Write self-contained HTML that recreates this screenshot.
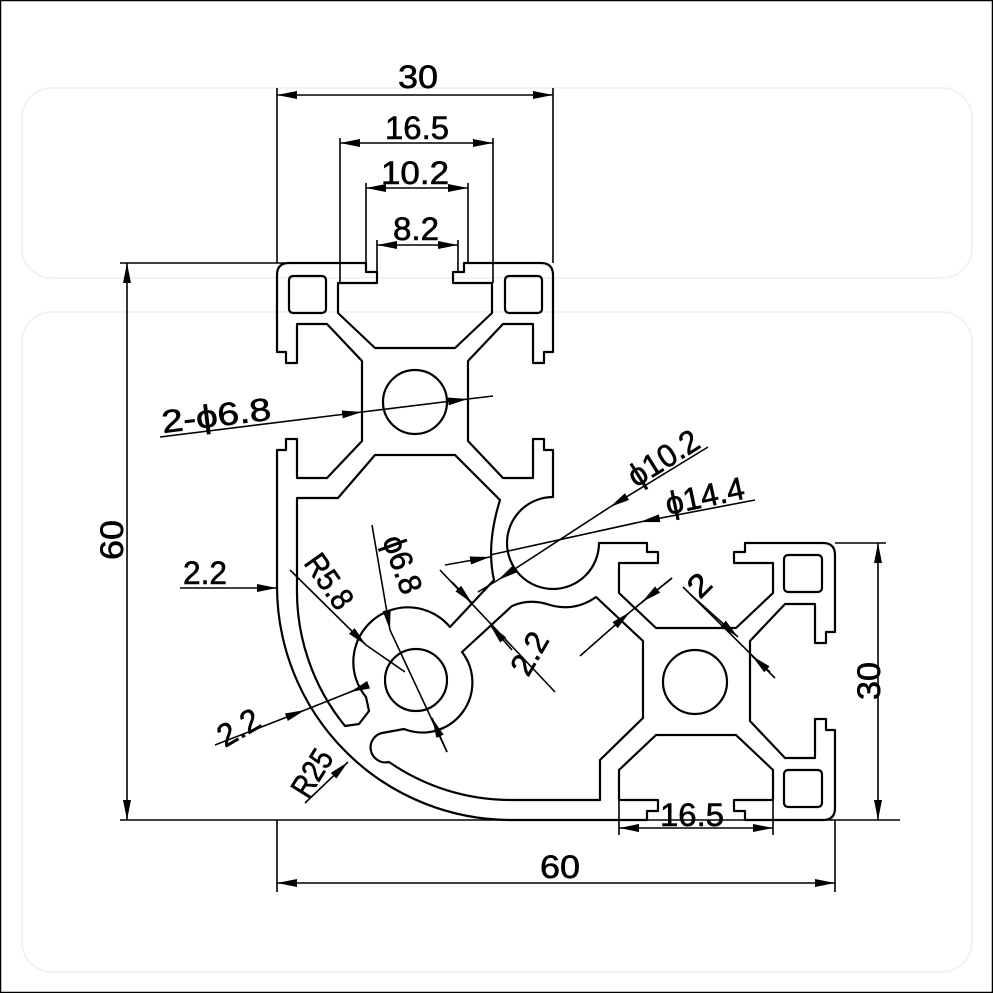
<!DOCTYPE html>
<html><head><meta charset="utf-8"><style>
html,body{margin:0;padding:0;background:#fff}
svg{display:block}
text{font-family:"Liberation Sans",sans-serif;fill:#000;stroke:#000;stroke-width:0.6}
</style></head><body>
<svg width="993" height="993" viewBox="0 0 993 993" xmlns="http://www.w3.org/2000/svg">
<defs>
<marker id="a" viewBox="0 0 20 8" refX="20" refY="4" markerWidth="20" markerHeight="8" markerUnits="userSpaceOnUse" orient="auto-start-reverse"><path d="M0,0 L20,4 L0,8 Z" fill="#000"/></marker>
</defs>
<rect x="0.5" y="0.5" width="992" height="992" fill="#fff" stroke="#000" stroke-width="1.5"/>
<g fill="none" stroke="#f2f2f2" stroke-width="2">
<rect x="22" y="88" width="950" height="190" rx="30"/>
<rect x="22" y="312" width="950" height="660" rx="30"/>
</g>
<g fill="none" stroke="#000" stroke-width="2.2" stroke-linejoin="round">
<path d="M277,275 Q277,263 289,263 L366,263 L366,272 L377,272 L377,283 L338,283 L338,313 L375,348 L455,348 L492,313 L492,283 L453,283 L453,272 L464,272 L464,263 L541,263 Q553,263 553,275
L553,352 L544,352 L544,363 L533,363 L533,324 L503,324 L468,361 L468,441 L503,478 L533,478 L533,439 L544,439 L544,450 L553,450 L553,497
A46,46 0 1 0 599,543 L647,543 L647,552 L658,552 L658,563 L619,563 L619,593 L656,628 L736,628 L773,593 L773,563 L734,563 L734,552 L745,552 L745,543 L823,543 Q835,543 835,555
L835,632 L826,632 L826,643 L815,643 L815,604 L785,604 L750,641 L750,721 L785,758 L815,758 L815,719 L826,719 L826,730 L835,730 L835,808 Q835,820 823,820
L745,820 L745,811 L734,811 L734,800 L773,800 L773,770 L736,735 L656,735 L619,770 L619,800 L658,800 L658,811 L647,811 L647,820 L511,820
A234,234 0 0 1 277,586 L277,450 L286,450 L286,439 L297,439 L297,478 L327,478 L362,441 L362,361 L327,324 L297,324 L297,363 L286,363 L286,352 L277,352 Z"/>
<path d="M297,498 L338,498 L375,455 L455,455 L500,500 Q486,545 494,580 L450,627 A50,50 0 0 0 366,697 L369,711 L359,724 L345,726 A214,214 0 0 1 297,586 Z"/>
<path d="M462,652 L512,606 Q530,598 550,605 Q575,612 596,597 L643,641 L643,718 L600,760 L600,800 L511,800 A214,214 0 0 1 389,762 A14,14 0 0 1 382,733 L404,729 A50,50 0 0 0 462,652 Z"/>
<rect x="289" y="276" width="37" height="37" rx="4"/>
<rect x="505" y="276" width="37" height="37" rx="4"/>
<rect x="784" y="555" width="38" height="37" rx="4"/>
<rect x="784" y="770" width="38" height="37" rx="4"/>
<circle cx="415" cy="402" r="32"/>
<circle cx="695" cy="682" r="32"/>
<circle cx="416" cy="680" r="31"/>
</g>
<g stroke="#000" stroke-width="1.6" fill="none">
<path d="M277,88 V263 M553,88 V263 M340,138 V283 M493,138 V283 M366,183 V263 M468,183 V263 M377,240 V272 M458,240 V272
M120,263 H300 M120,820 H900 M277,820 V892 M835,820 V892 M835,543 H886 M619,800 V835 M773,800 V835"/>
</g>
<g stroke="#000" stroke-width="1.6" fill="none">
<line x1="277" y1="95" x2="553" y2="95" marker-start="url(#a)" marker-end="url(#a)"/>
<line x1="340" y1="143" x2="493" y2="143" marker-start="url(#a)" marker-end="url(#a)"/>
<line x1="366" y1="188" x2="468" y2="188" marker-start="url(#a)" marker-end="url(#a)"/>
<line x1="377" y1="245" x2="458" y2="245" marker-start="url(#a)" marker-end="url(#a)"/>
<line x1="127" y1="263" x2="127" y2="820" marker-start="url(#a)" marker-end="url(#a)"/>
<line x1="878" y1="543" x2="878" y2="820" marker-start="url(#a)" marker-end="url(#a)"/>
<line x1="277" y1="883" x2="835" y2="883" marker-start="url(#a)" marker-end="url(#a)"/>
<line x1="619" y1="828" x2="773" y2="828" marker-start="url(#a)" marker-end="url(#a)"/>
<line x1="180" y1="588" x2="277" y2="588" marker-end="url(#a)"/>
<line x1="160" y1="437" x2="362" y2="412" marker-end="url(#a)"/>
<line x1="362" y1="412" x2="468" y2="399" marker-end="url(#a)"/>
<line x1="468" y1="399" x2="493" y2="396"/>
<line x1="708" y1="447" x2="610" y2="507" marker-end="url(#a)"/>
<line x1="610" y1="507" x2="498" y2="580" marker-end="url(#a)"/>
<line x1="498" y1="580" x2="478" y2="592"/>
<line x1="755" y1="500" x2="640" y2="522" marker-end="url(#a)"/>
<line x1="640" y1="522" x2="490" y2="555"/>
<line x1="445" y1="565" x2="490" y2="557" marker-end="url(#a)"/>
<line x1="290" y1="570" x2="366" y2="645" marker-end="url(#a)"/>
<line x1="366" y1="645" x2="405" y2="672"/>
<line x1="372" y1="525" x2="390" y2="630" marker-end="url(#a)"/>
<line x1="390" y1="630" x2="447" y2="752"/>
<line x1="447" y1="752" x2="432" y2="718" marker-end="url(#a)"/>
<line x1="215" y1="745" x2="305" y2="710" marker-end="url(#a)"/>
<line x1="305" y1="710" x2="368" y2="685"/>
<line x1="368" y1="685" x2="350" y2="692" marker-end="url(#a)"/>
<line x1="305" y1="803" x2="348" y2="762" marker-end="url(#a)"/>
<line x1="440" y1="570" x2="555" y2="692"/>
<line x1="452" y1="582" x2="472" y2="603" marker-end="url(#a)"/>
<line x1="512" y1="650" x2="490" y2="625" marker-end="url(#a)"/>
<line x1="580" y1="656" x2="630" y2="612" marker-end="url(#a)"/>
<line x1="630" y1="612" x2="672" y2="578"/>
<line x1="672" y1="578" x2="642" y2="602" marker-end="url(#a)"/>
<line x1="683" y1="587" x2="775" y2="678"/>
<line x1="690" y1="594" x2="738" y2="637" marker-end="url(#a)"/>
<line x1="770" y1="672" x2="752" y2="656" marker-end="url(#a)"/>
</g>
<g font-size="32">
<text x="398" y="88" textLength="40" lengthAdjust="spacingAndGlyphs">30</text>
<text x="385" y="139" textLength="64" lengthAdjust="spacingAndGlyphs">16.5</text>
<text x="381" y="184" textLength="68" lengthAdjust="spacingAndGlyphs">10.2</text>
<text x="393" y="240" textLength="46" lengthAdjust="spacingAndGlyphs">8.2</text>
<text transform="translate(123,560) rotate(-90)" textLength="40" lengthAdjust="spacingAndGlyphs">60</text>
<text transform="translate(880,700) rotate(-90)" textLength="38" lengthAdjust="spacingAndGlyphs">30</text>
<text x="540" y="878" textLength="40" lengthAdjust="spacingAndGlyphs">60</text>
<text x="660" y="826" textLength="64" lengthAdjust="spacingAndGlyphs">16.5</text>
<text x="183" y="584" textLength="44" lengthAdjust="spacingAndGlyphs">2.2</text>
<text transform="translate(163,433) rotate(-7)" textLength="110" lengthAdjust="spacingAndGlyphs">2-ϕ6.8</text>
<text transform="translate(636,488) rotate(-32)" textLength="78" lengthAdjust="spacingAndGlyphs">ϕ10.2</text>
<text transform="translate(668,515) rotate(-12)" textLength="80" lengthAdjust="spacingAndGlyphs">ϕ14.4</text>
<text transform="translate(303,563) rotate(55)" textLength="60" lengthAdjust="spacingAndGlyphs">R5.8</text>
<text transform="translate(382,540) rotate(70)" textLength="60" lengthAdjust="spacingAndGlyphs">ϕ6.8</text>
<text transform="translate(225,748) rotate(-30)" textLength="44" lengthAdjust="spacingAndGlyphs">2.2</text>
<text transform="translate(308,800) rotate(-58)" textLength="50" lengthAdjust="spacingAndGlyphs">R25</text>
<text transform="translate(528,678) rotate(-60)" textLength="44" lengthAdjust="spacingAndGlyphs">2.2</text>
<text transform="translate(700,600) rotate(-45)" textLength="20" lengthAdjust="spacingAndGlyphs">2</text>
</g>
</svg>
</body></html>
